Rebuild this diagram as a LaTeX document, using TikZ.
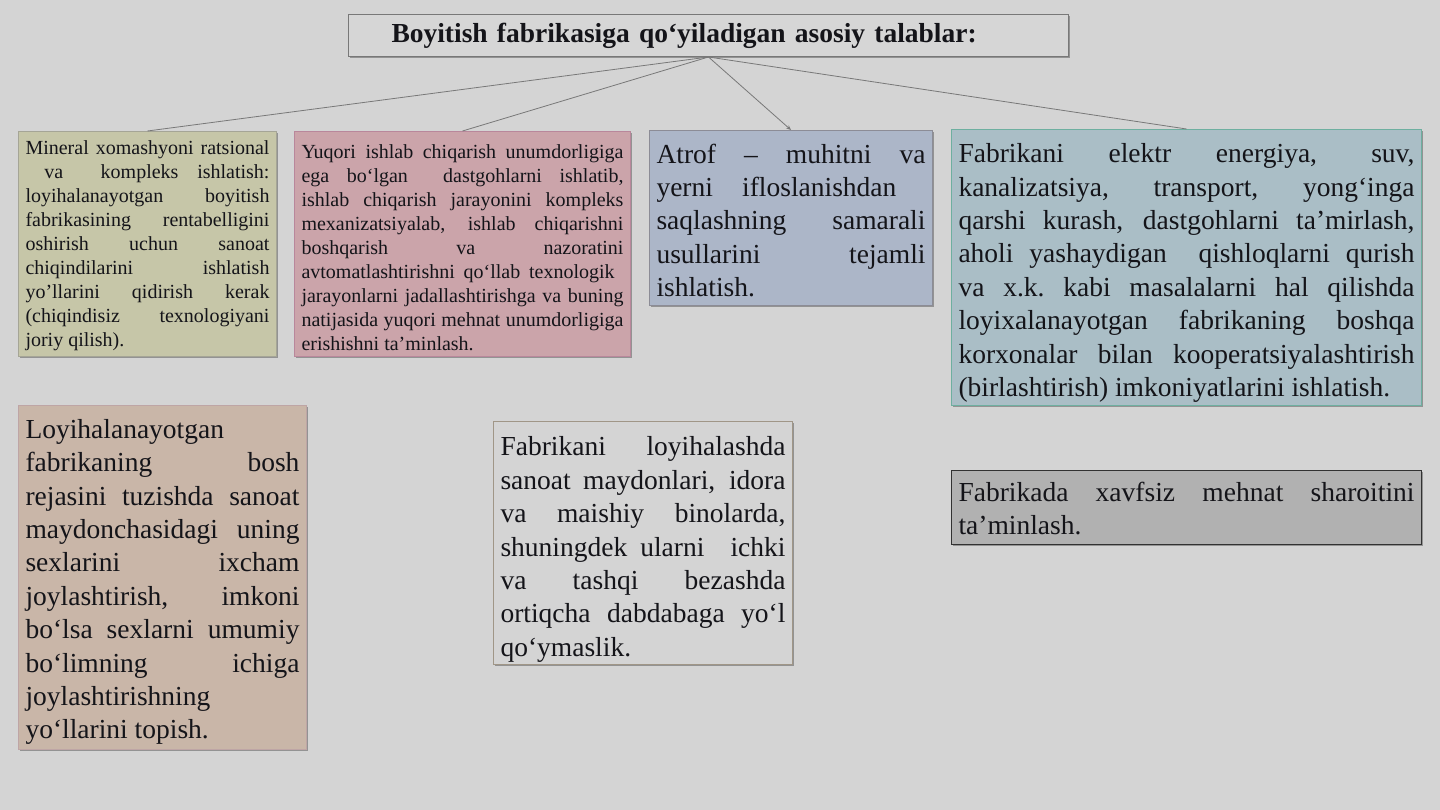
\documentclass[tikz,border=0pt]{standalone}
\usepackage{fontspec}
\setmainfont{Liberation Serif}
\usetikzlibrary{shadows,arrows.meta}
\newcommand{\curw}{100pt}
\newcommand{\jl}[1]{\leavevmode\hbox to \curw{#1}\\}
\newcommand{\topr}[1]{\rule{0pt}{#1}}
\definecolor{bg}{RGB}{212,212,212}
\definecolor{titlefill}{RGB}{214,214,214}
\definecolor{titledraw}{RGB}{120,120,120}
\definecolor{bAfill}{RGB}{198,198,168}
\definecolor{bAdraw}{RGB}{165,165,150}
\definecolor{bBfill}{RGB}{203,164,170}
\definecolor{bBdraw}{RGB}{185,135,155}
\definecolor{bCfill}{RGB}{172,182,200}
\definecolor{bCdraw}{RGB}{140,140,150}
\definecolor{bDfill}{RGB}{170,190,198}
\definecolor{bDdraw}{RGB}{110,175,160}
\definecolor{bEfill}{RGB}{201,182,168}
\definecolor{bEdraw}{RGB}{190,165,165}
\definecolor{bFfill}{RGB}{212,212,212}
\definecolor{bFdraw}{RGB}{160,150,135}
\definecolor{bGfill}{RGB}{177,177,177}
\definecolor{bGdraw}{RGB}{50,50,50}
\definecolor{linec}{RGB}{120,120,120}
\definecolor{txt}{RGB}{20,20,25}
\begin{document}
\begin{tikzpicture}[x=1pt,y=-1pt,
  box/.style={draw, rectangle, anchor=north west, inner xsep=7pt, inner ysep=0pt,
    line width=1pt, align=left, text=txt,
    drop shadow={shadow xshift=1.5pt, shadow yshift=-1.5pt, opacity=0.3, fill=black}},
  tw/.style={text width=#1, execute at begin node={\renewcommand{\curw}{#1}%
    \spaceskip=0.25em plus 20em minus 0.05em\xspaceskip=\spaceskip}},
  small/.style={font=\fontsize{20}{24}\selectfont},
  big/.style={font=\fontsize{27.5}{33.4}\selectfont},
  conn/.style={draw=linec, line width=0.8pt}]
\useasboundingbox (0,0) rectangle (1440,810);
\fill[bg] (0,0) rectangle (1440,810);

\node[box, draw=titledraw, fill=titlefill, minimum width=720pt, minimum height=42pt,
  text width=706pt, font=\bfseries\fontsize{27.5}{32}\selectfont] (title) at (348,14)
  {\hspace*{36pt}Boyitish fabrikasiga qo‘yiladigan asosiy talablar:};

\node[box, small, draw=bAdraw, fill=bAfill, minimum width=258pt, minimum height=225pt,
  tw=244pt] (b1) at (18,131) {%
\jl{\topr{18pt}Mineral xomashyoni ratsional}%
\jl{\hskip0pt\ va\ \ kompleks ishlatish:}%
\jl{loyihalanayotgan boyitish}%
\jl{fabrikasining rentabelligini}%
\jl{oshirish uchun sanoat}%
\jl{chiqindilarini ishlatish}%
\jl{yo'llarini qidirish kerak}%
\jl{(chiqindisiz texnologiyani}%
joriy qilish).};

\node[box, small, draw=bBdraw, fill=bBfill, minimum width=336pt, minimum height=225pt,
  tw=322pt] (b2) at (294,131) {%
\jl{\topr{22pt}Yuqori ishlab chiqarish unumdorligiga}%
\jl{ega bo‘lgan\ \ dastgohlarni ishlatib,}%
\jl{ishlab chiqarish jarayonini kompleks}%
\jl{mexanizatsiyalab, ishlab chiqarishni}%
\jl{boshqarish va nazoratini}%
\jl{avtomatlashtirishni qo‘llab texnologik\ }%
\jl{jarayonlarni jadallashtirishga va buning}%
\jl{natijasida yuqori mehnat unumdorligiga}%
erishishni ta’minlash.};

\node[box, big, draw=bCdraw, fill=bCfill, minimum width=283pt, minimum height=175pt,
  tw=269pt] (b3) at (649,130) {%
\jl{\topr{24pt}Atrof – muhitni va}%
\jl{yerni ifloslanishdan\ }%
\jl{saqlashning samarali}%
\jl{usullarini tejamli}%
ishlatish.};

\node[box, big, draw=bDdraw, fill=bDfill, minimum width=470pt, minimum height=276pt,
  tw=456pt] (b4) at (951,129) {%
\jl{\topr{30pt}Fabrikani elektr energiya, suv,}%
\jl{kanalizatsiya, transport, yong‘inga}%
\jl{qarshi kurash, dastgohlarni ta’mirlash,}%
\jl{aholi yashaydigan\ \ qishloqlarni qurish}%
\jl{va x.k. kabi masalalarni hal qilishda}%
\jl{loyixalanayotgan fabrikaning boshqa}%
\jl{korxonalar bilan kooperatsiyalashtirish}%
(birlashtirish) imkoniyatlarini ishlatish.};

\node[box, big, draw=bEdraw, fill=bEfill, minimum width=288pt, minimum height=344pt,
  tw=274pt] (b5) at (18,405) {%
\topr{28pt}Loyihalanayotgan\\
\jl{fabrikaning bosh}%
\jl{rejasini tuzishda sanoat}%
\jl{maydonchasidagi uning}%
\jl{sexlarini ixcham}%
\jl{joylashtirish, imkoni}%
\jl{bo‘lsa sexlarni umumiy}%
\jl{bo‘limning ichiga}%
joylashtirishning\\
yo‘llarini topish.};

\node[box, big, draw=bFdraw, fill=bFfill, minimum width=299pt, minimum height=243pt,
  tw=285pt] (b6) at (493,421) {%
\jl{\topr{32pt}Fabrikani loyihalashda}%
\jl{sanoat maydonlari, idora}%
\jl{va maishiy binolarda,}%
\jl{shuningdek ularni\ \ ichki}%
\jl{va tashqi bezashda}%
\jl{ortiqcha dabdabaga yo‘l}%
qo‘ymaslik.};

\node[box, big, draw=bGdraw, fill=bGfill, minimum width=470pt, minimum height=74pt,
  tw=456pt] (b7) at (951,470) {%
\jl{\topr{21pt}Fabrikada xavfsiz mehnat sharoitini}%
ta’minlash.};

\draw[conn] (title.south) -- (b1.north);
\draw[conn] (title.south) -- (b2.north);
\draw[conn, -{Stealth[length=5pt,width=4pt]}] (title.south) -- (b3.north);
\draw[conn] (title.south) -- (b4.north);
\end{tikzpicture}
\end{document}
